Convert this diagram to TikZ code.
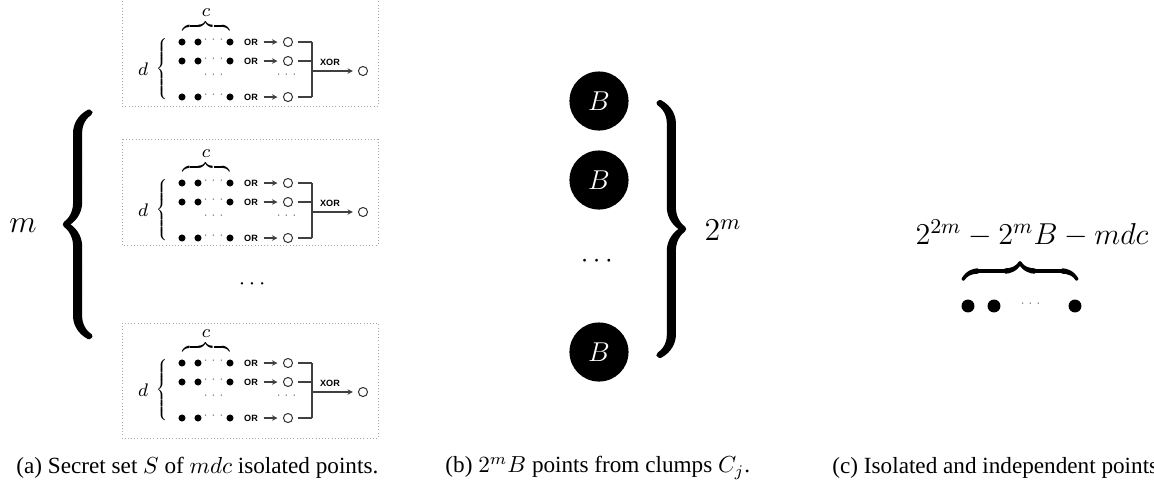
\RequirePackage{fix-cm}
\documentclass[tikz,border=0pt]{standalone}
\usepackage{amsmath}
\usepackage{fontspec}
\setmainfont{Liberation Serif}
\newfontfamily\gatefont{Liberation Sans}
\usetikzlibrary{arrows.meta, positioning, calc}

% heavier strokes for the big braces
\newcommand\heavy[2]{\special{pdf:literal direct 2 Tr #1 w}#2\special{pdf:literal direct 0 Tr 0.4 w}}

\tikzset{
  pt/.style={circle, fill=black, inner sep=0pt, minimum size=3.1pt},
  bigpt/.style={circle, fill=black, inner sep=0pt, minimum size=5.7pt},
  hole/.style={circle, draw=black!80, line width=0.45pt, inner sep=0pt, minimum size=4pt},
  gate/.style={font=\gatefont\fontsize{4}{4}\selectfont\bfseries, inner sep=0.5pt},
  wire/.style={draw=black!75, line width=0.5pt},
  gatearrow/.style={-{Stealth[length=2.4pt,width=2.4pt]}},
  panel/.style={draw=black!35, densely dotted, line width=0.4pt},
  clump/.style={circle, fill=black, text=white, minimum size=26pt, inner sep=0pt, font=\large},
  tinydots/.style={font=\tiny, text=black!60, inner sep=0pt},
  caption/.style={anchor=west, inner sep=0pt, font=\fontsize{10.2}{12}\selectfont},
}

\begin{document}
\begin{tikzpicture}[x=0.44pt, y=-0.44pt]
\useasboundingbox (0,0) rectangle (1154,496);

% the three secret panels
\foreach \R/\top/\bot/\k in {42/-2/106/1, 183/139/245/2, 363/323/438/3} {
  \draw[panel] (122,\top) rectangle (378,\bot);
  \node[font=\footnotesize, inner sep=0pt] (c\k) at (206,\R-29) {$c$};
  \node[font=\scriptsize, inner sep=0pt] (cb\k) at (206,\R-16) {$\overbrace{\hspace{21pt}}$};
  \node[font=\footnotesize, inner sep=0pt] (d\k) at (143,\R+27) {$d$};
  \node[font=\tiny, inner sep=0pt] (db\k) at (163,\R+28) {$\left\{\vrule height 13pt depth 13pt width 0pt\right.$};
  \foreach \r/\dy in {1/0, 2/19, 4/55} {
    \node[pt] (p\k-\r-a) at (182,\R+\dy) {};
    \node[pt] (p\k-\r-b) at (198,\R+\dy) {};
    \node[tinydots] at (215,\R+\dy-2) {$\cdots$};
    \node[pt] (p\k-\r-c) at (230,\R+\dy) {};
    \node[gate] (p\k-\r-or) at (251,\R+\dy) {OR};
    \node[hole] (p\k-\r-o) at (288,\R+\dy) {};
    \coordinate (p\k-\r-j) at (312,\R+\dy);
    \draw[wire, gatearrow, shorten <=1.8pt, shorten >=2.4pt] (p\k-\r-or) -- (p\k-\r-o);
    \draw[wire, shorten <=2pt] (p\k-\r-o) -- (p\k-\r-j);
  }
  \node[tinydots] at (215,\R+33) {$\cdots$};
  \node[tinydots] at (288,\R+33) {$\cdots$};
  \draw[wire] (p\k-1-j) -- (p\k-4-j);
  \coordinate (x\k) at (312,\R+29);
  \node[hole] (out\k) at (363,\R+29) {};
  \node[gate] at (330,\R+20) {XOR};
  \draw[wire, gatearrow, shorten >=2.2pt] (x\k) -- (out\k);
}

\node[font=\normalsize] (more) at (254,284) {$\cdots$};
\node[font=\huge, inner sep=0pt] (mbrace) at (79,226) {\heavy{1.5}{$\left\{\vrule height 46pt depth 46pt width 0pt\right.$}};
\node[font=\fontsize{14}{16}\selectfont] (mlabel) at (23,226) {$m$};

% clumps
\node[clump] (b1) at (599,101) {$B$};
\node[clump] (b2) at (599,180) {$B$};
\node[font=\large] (bdots) at (599,261) {$\cdots$};
\node[clump] (b3) at (599,352) {$B$};
\node[font=\huge, inner sep=0pt] (bbrace) at (670,229) {\heavy{1.5}{$\left.\vrule height 49pt depth 49pt width 0pt\right\}$}};
\node[font=\fontsize{14}{16}\selectfont] (blabel) at (723,230) {$2^m$};

% isolated points
\node[font=\fontsize{13.3}{16}\selectfont] (count) at (1032,233) {$2^{2m}-2^mB-mdc$};
\node[font=\Large, inner sep=0pt] (cbrace) at (1020,271) {\heavy{0.6}{$\overbrace{\hspace{50pt}}$}};
\node[bigpt] (q1) at (968,306) {};
\node[bigpt] (q2) at (994,306) {};
\node[tinydots] (qd) at (1032,304) {$\cdots$};
\node[bigpt] (q3) at (1075,306) {};

% captions
\node[caption] (capa) at (16,468) {(a) Secret set $S$ of $mdc$ isolated points.};
\node[caption] (capb) at (445,468) {(b) $2^mB$ points from clumps $C_j$.};
\node[caption] (capc) at (832,468) {(c) Isolated and independent points.};
\end{tikzpicture}
\end{document}
